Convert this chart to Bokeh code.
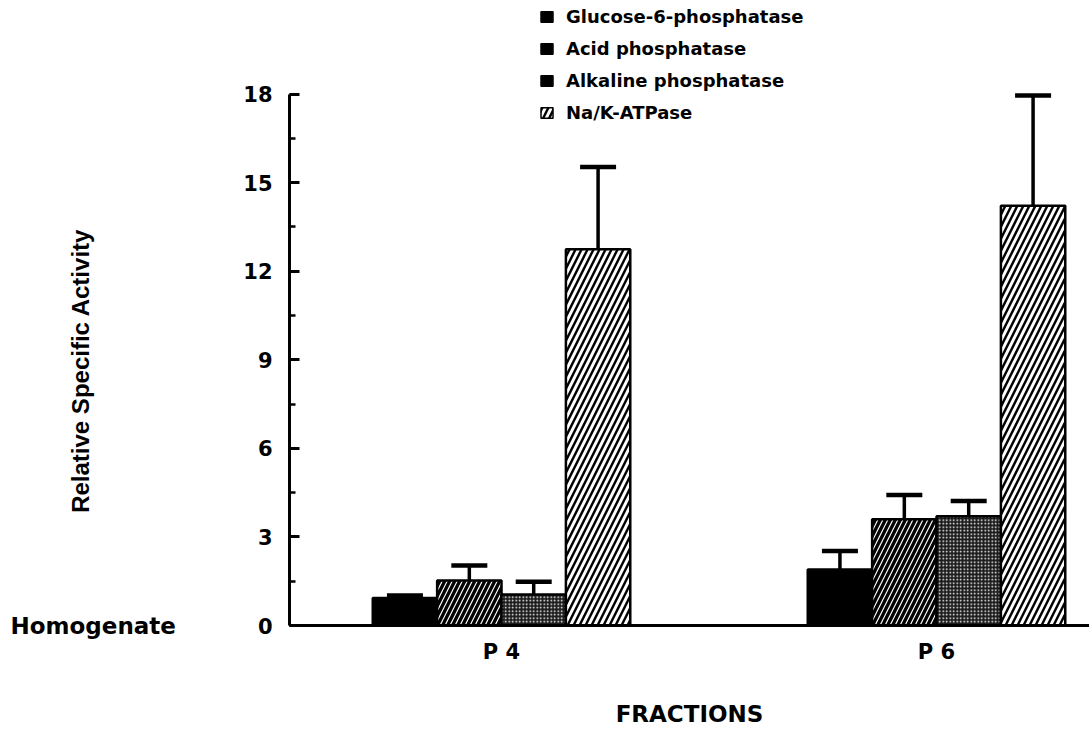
import numpy as np
from bokeh.plotting import figure
from bokeh.layouts import row
from bokeh.models import (Range1d, SingleIntervalTicker, FixedTicker, Whisker,
                          ColumnDataSource, TeeHead, Legend, LegendItem, Label)
from bokeh.embed import file_html
from bokeh.resources import INLINE

# Fractions and enzyme markers (relative specific activity, homogenate = 1)
fractions = ["P 4", "P 6"]
enzymes = ["Glucose-6-phosphatase", "Acid phosphatase",
           "Alkaline phosphatase", "Na/K-ATPase"]
p4_mean = [0.93, 1.52, 1.05, 12.74]
p4_err = [0.09, 0.51, 0.43, 2.79]
p6_mean = [1.90, 3.60, 3.70, 14.22]
p6_err = [0.62, 0.82, 0.52, 3.73]
y_ticks = [0, 3, 6, 9, 12, 15, 18]

means = [p4_mean, p6_mean]
errs = [p4_err, p6_err]

FONT = "DejaVu Sans"
W, H = 1089, 729
MARGIN_W = 234          # width of the left text strip
TOP, BOTTOM = 5, 104    # borders of the bar panel
Y_MAX = 21.0

group_pos = np.arange(1, len(fractions) + 1)
bar_w = 0.148
offsets = (np.arange(len(enzymes)) - (len(enzymes) - 1) / 2) * bar_w

p = figure(width=W - MARGIN_W, height=H, output_backend="svg",
           toolbar_location=None,
           x_range=Range1d(0.5126, 2.3517), y_range=Range1d(0, Y_MAX),
           min_border_left=55, min_border_right=0, min_border_top=TOP,
           min_border_bottom=BOTTOM)
p.frame_align = False
p.outline_line_color = None
p.xgrid.visible = False
p.ygrid.visible = False
p.background_fill_color = "white"
p.border_fill_color = "white"

styles = [
    dict(fill_color="black"),
    dict(fill_color="black", hatch_pattern="/", hatch_color="white",
         hatch_scale=10, hatch_weight=1.2),
    dict(fill_color="#1c1c1c", hatch_pattern="dot", hatch_color="white",
         hatch_scale=3.5, hatch_weight=1.2),
    dict(fill_color="white", hatch_pattern="/", hatch_color="black",
         hatch_scale=12, hatch_weight=2.4),
]

for k, enz in enumerate(enzymes):
    xs = group_pos + offsets[k]
    tops = [m[k] for m in means]
    upper = [m[k] + e[k] for m, e in zip(means, errs)]
    src = ColumnDataSource(dict(x=xs, top=tops, upper=upper))
    w = Whisker(source=src, base="x", lower="top", upper="upper",
                line_color="black", line_width=3.5,
                upper_head=TeeHead(size=36, line_width=4.5, line_color="black"),
                lower_head=None, level="underlay")
    p.add_layout(w)
    p.vbar(x="x", top="top", bottom=0, width=bar_w, source=src,
           line_color="black", line_width=2.5, **styles[k])

# legend swatches (renderers with no visible mark, used only for the key)
legend_items = []
sw_styles = [dict(fill_color="black"), dict(fill_color="black"),
             dict(fill_color="black"), styles[3]]
for k, enz in enumerate(enzymes):
    r = p.vbar(x=[np.nan], top=[np.nan], width=0.1, line_color="black",
               line_width=1.5, **sw_styles[k])
    legend_items.append(LegendItem(label=enz, renderers=[r]))
legend = Legend(items=legend_items, location=(250, 502),
                label_text_font=FONT, label_text_font_style="bold",
                label_text_font_size="18px", label_text_color="black",
                glyph_width=15, glyph_height=13,
                label_height=20, spacing=11, padding=0, margin=0,
                label_standoff=12, border_line_color=None,
                background_fill_alpha=0)
p.add_layout(legend, "center")

# y axis: ticks pointing inward, axis line stops at 18
ya = p.yaxis[0]
ya.ticker = SingleIntervalTicker(interval=3, num_minor_ticks=2)
ya.bounds = (y_ticks[0], y_ticks[-1])
ya.axis_line_width = 3
ya.major_tick_in = 10
ya.major_tick_out = 0
ya.minor_tick_in = 6
ya.minor_tick_out = 0
ya.major_tick_line_width = 3
ya.minor_tick_line_width = 2.5
ya.major_label_text_font = FONT
ya.major_label_text_font_style = "bold"
ya.major_label_text_font_size = "21px"
ya.major_label_text_color = "black"
ya.major_label_standoff = 17

xa = p.xaxis[0]
xa.ticker = FixedTicker(ticks=list(group_pos))
xa.major_label_overrides = {int(g): f for g, f in zip(group_pos, fractions)}
xa.axis_line_width = 3
xa.major_tick_in = 0
xa.major_tick_out = 0
xa.minor_tick_line_color = None
xa.major_label_text_font = FONT
xa.major_label_text_font_style = "bold"
xa.major_label_text_font_size = "21px"
xa.major_label_text_color = "black"
xa.major_label_standoff = 14
xa.axis_label = "FRACTIONS"
xa.axis_label_text_font = FONT
xa.axis_label_text_font_style = "bold"
xa.axis_label_text_font_size = "23px"
xa.axis_label_text_color = "black"
xa.axis_label_standoff = 34

# left strip on the same value scale, extended down to the page bottom
px_per_unit = (H - TOP - BOTTOM) / Y_MAX
side = figure(width=MARGIN_W, height=H, output_backend="svg",
              toolbar_location=None, x_axis_type=None, y_axis_type=None,
              x_range=Range1d(0, MARGIN_W),
              y_range=Range1d(-BOTTOM / px_per_unit, Y_MAX),
              min_border_left=0, min_border_right=0, min_border_top=TOP,
              min_border_bottom=0)
side.frame_align = False
side.outline_line_color = None
side.xgrid.visible = False
side.ygrid.visible = False
side.add_layout(Label(x=10, y=y_ticks[0], x_units="screen", y_units="data",
                      text="Homogenate", text_font=FONT,
                      text_font_style="bold", text_font_size="23px",
                      text_baseline="middle", text_color="black"))
side.add_layout(Label(x=80, y=(y_ticks[0] + y_ticks[-1]) / 2, y_offset=-11,
                      x_units="screen", y_units="data",
                      text="Relative Specific Activity", angle=np.pi / 2,
                      text_font="Liberation Sans", text_font_style="bold",
                      text_font_size="24px", text_align="center",
                      text_baseline="middle", text_color="black"))

layout = row(side, p, spacing=0)
open("out.html", "w").write(file_html(layout, INLINE))
